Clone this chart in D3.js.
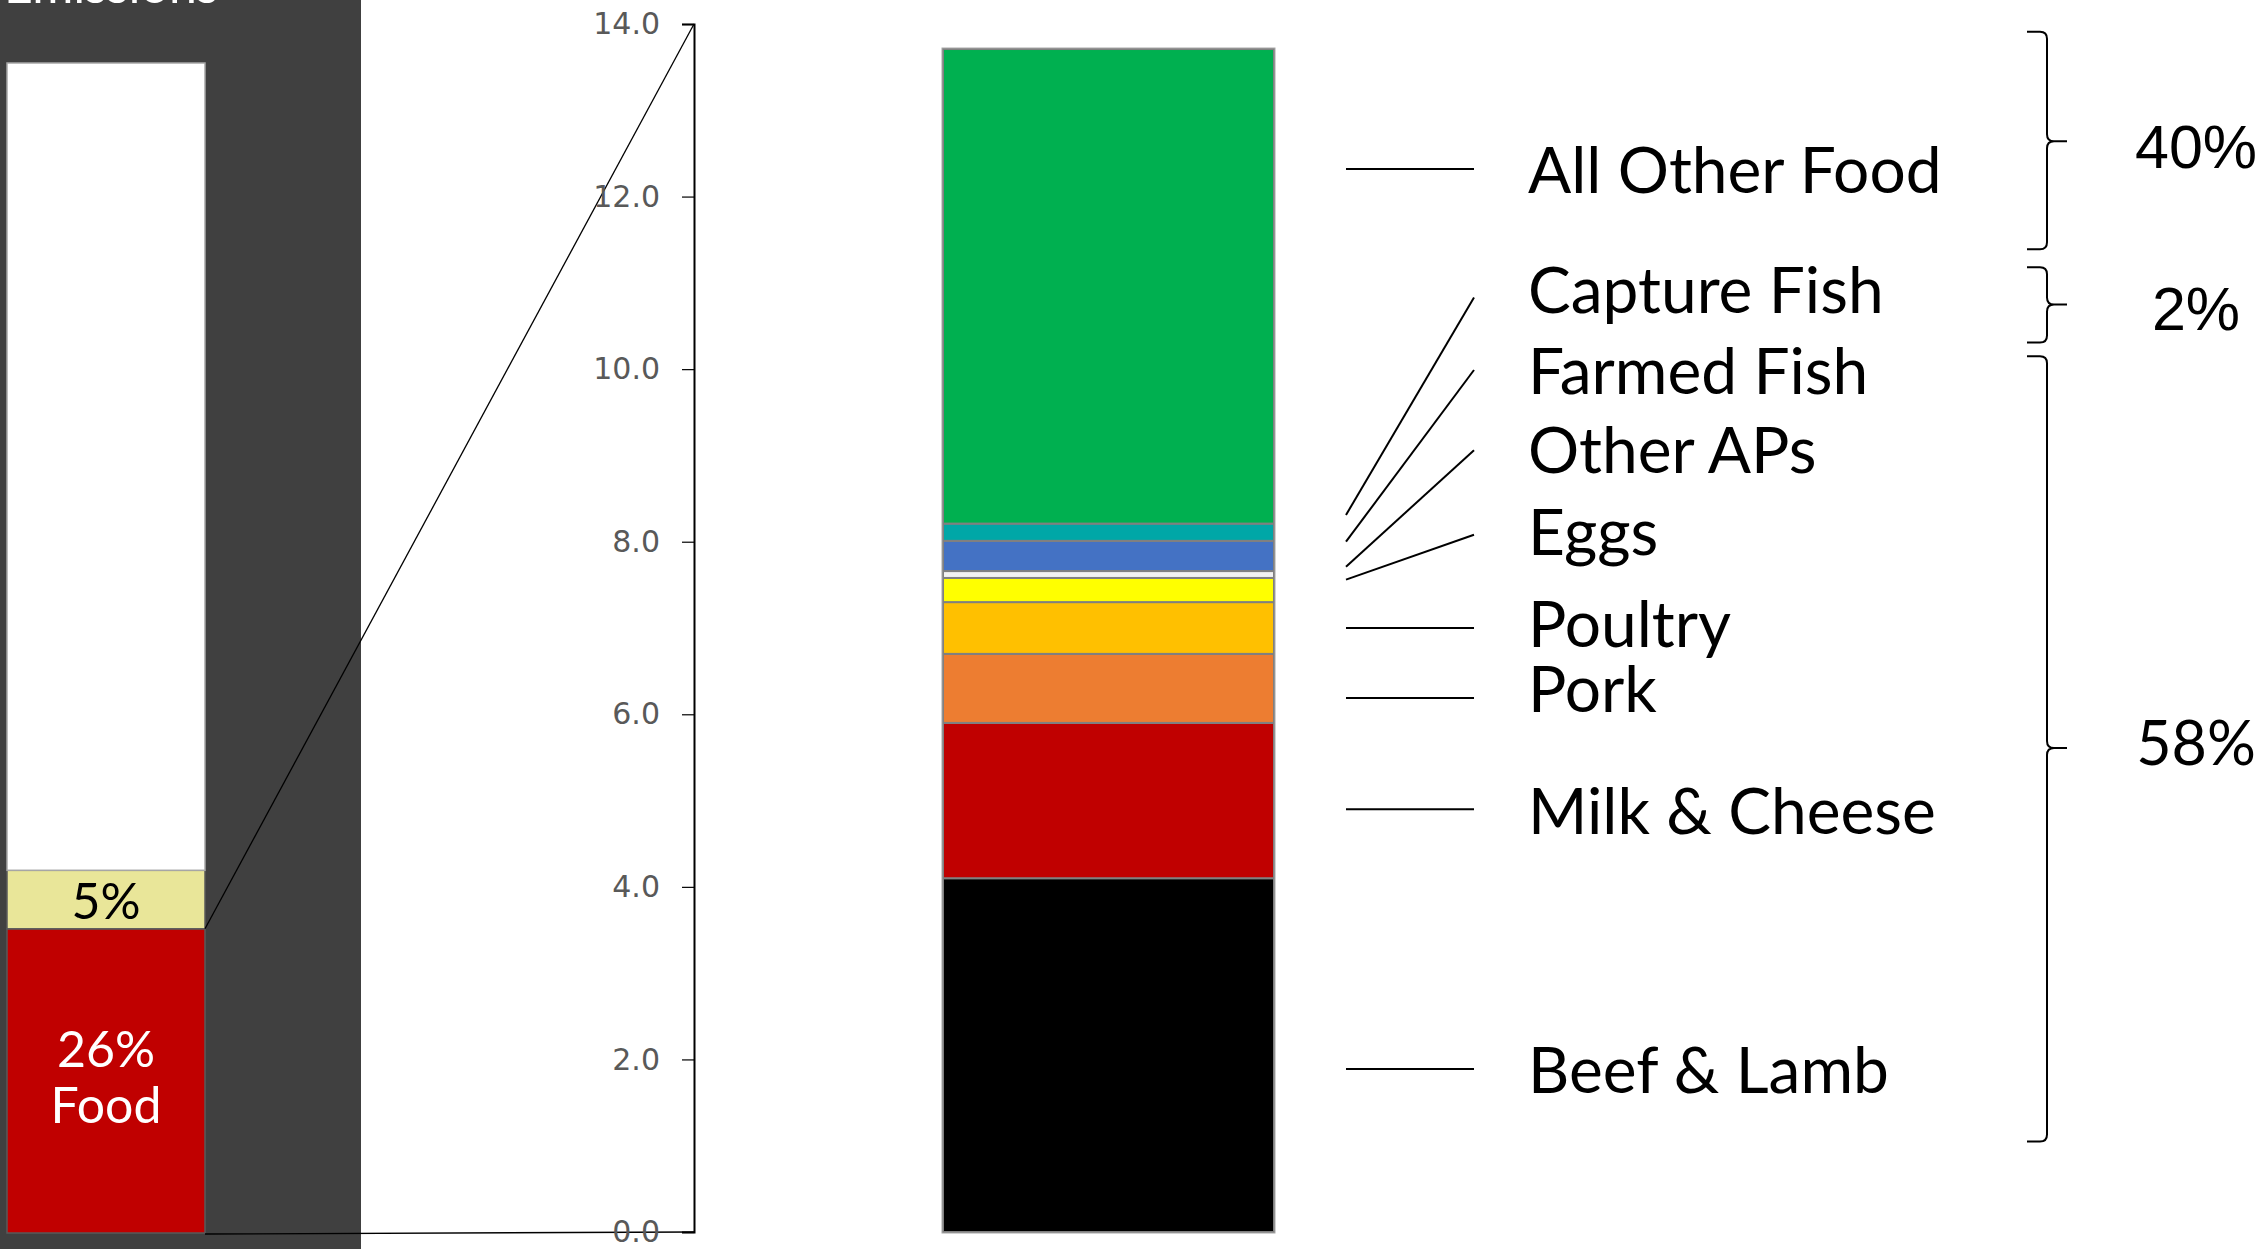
<!DOCTYPE html>
<html>
<head>
<meta charset="utf-8">
<script src="https://cdn.jsdelivr.net/npm/d3@7"></script>
<style>
  html, body { margin: 0; padding: 0; background: #fff; }
  svg { display: block; }
</style>
</head>
<body>
<svg id="chart" width="2267" height="1249"></svg>
<script>
// ---------- DATA ----------
// Left panel: share of total emissions (percent)
const leftCategories = ["Food", "Other", "Rest"];
const leftValues = [26, 5, 69];
const leftColors = ["#C00000", "#E9E699", "#FFFFFF"];

// Right panel: food emissions breakdown (bottom to top)
const categories = ["Beef & Lamb", "Milk & Cheese", "Pork", "Poultry", "Eggs",
                    "Other APs", "Farmed Fish", "Capture Fish", "All Other Food"];
const values = [4.1, 1.8, 0.8, 0.6, 0.28, 0.08, 0.35, 0.2, 5.5];
const colors = ["#000000", "#C00000", "#ED7D31", "#FFC000", "#FFFF00",
                "#F2F2F2", "#4472C4", "#00A7A7", "#00B050"];

// Label placement (in axis units)
const labelBaseline = [1.61, 4.61, 6.03, 6.78, 7.85, 8.80, 9.71, 10.65, 12.04];
const leaderEndY    = [1.89, 4.90, 6.19, 7.00, 8.08, 9.06, 9.99, 10.83, 12.32];
const leaderStartY  = [1.89, 4.90, 6.19, 7.00, 7.56, 7.71, 8.00, 8.31, 12.32];

// Axis ticks
const tickValues = [0, 2, 4, 6, 8, 10, 12, 14];

// Group brackets (in axis units)
const groupLabels = ["40%", "2%", "58%"];
const groupTop    = [13.91, 11.18, 10.15];
const groupBottom = [11.39, 10.31, 1.05];
const groupTip    = [12.64, 10.75, 5.61];
const groupLabelY = [12.33, 10.45, 5.41];
const groupFonts  = ["'Liberation Sans', Arial, sans-serif", "'Liberation Sans', Arial, sans-serif", "Lato, sans-serif"];

// ---------- LAYOUT ----------
const W = 2267, H = 1249;
const svg = d3.select("#chart");

const y = d3.scaleLinear().domain([0, 14]).range([1232, 24]);
const yL = d3.scaleLinear().domain([0, 100]).range([1233, 63]);

const leftPanel = { x0: 0, x1: 361 };
const leftBar = { x0: 7, x1: 205 };
const axisX = 694;
const rightBar = { x0: 943, x1: 1274 };
const leaderX0 = 1346, leaderX1 = 1474, labelX = 1528;
const brace = { xo: 2027, xs: 2047, xt: 2067, labelX: 2196 };

// Dark background panel
svg.append("rect")
  .attr("x", leftPanel.x0).attr("y", 0)
  .attr("width", leftPanel.x1 - leftPanel.x0).attr("height", H)
  .attr("fill", "#404040");

// Cut-off title
svg.append("text")
  .attr("x", 4).attr("y", 3)
  .attr("fill", "#FFFFFF")
  .attr("font-family", "Lato, sans-serif")
  .attr("font-size", 50)
  .text("Emissions");

// Left stacked bar
const leftStack = [];
let acc = 0;
leftValues.forEach((v, i) => { leftStack.push({ cat: leftCategories[i], y0: acc, y1: acc + v, color: leftColors[i] }); acc += v; });

svg.append("g").selectAll("rect").data(leftStack).join("rect")
  .attr("x", leftBar.x0)
  .attr("width", leftBar.x1 - leftBar.x0)
  .attr("y", d => yL(d.y1))
  .attr("height", d => yL(d.y0) - yL(d.y1))
  .attr("fill", d => d.color)
  .attr("stroke", d => d.cat === "Rest" ? "#A6A6A6" : "#5A5A5A")
  .attr("stroke-width", 1.5);

// Left labels
const cx = (leftBar.x0 + leftBar.x1) / 2;
svg.append("text")
  .attr("x", cx).attr("y", yL(26) - 10)
  .attr("text-anchor", "middle")
  .attr("font-family", "Lato, sans-serif").attr("font-size", 50)
  .attr("fill", "#000").text(leftValues[1] + "%");
svg.append("text")
  .attr("x", cx).attr("y", yL(14.2))
  .attr("text-anchor", "middle")
  .attr("font-family", "Lato, sans-serif").attr("font-size", 50)
  .attr("fill", "#fff").text(leftValues[0] + "%");
svg.append("text")
  .attr("x", cx).attr("y", yL(9.4))
  .attr("text-anchor", "middle")
  .attr("font-family", "Lato, sans-serif").attr("font-size", 50)
  .attr("fill", "#fff").text(leftCategories[0]);

// Zoom connector lines
svg.append("line")
  .attr("x1", leftBar.x1).attr("y1", yL(26))
  .attr("x2", axisX).attr("y2", y(14))
  .attr("stroke", "#000").attr("stroke-width", 1.3);
svg.append("line")
  .attr("x1", leftBar.x1).attr("y1", yL(0) + 1)
  .attr("x2", axisX).attr("y2", y(0))
  .attr("stroke", "#000").attr("stroke-width", 1.3);

// Axis
const axis = d3.axisLeft(y).tickValues(tickValues).tickFormat(d3.format(".1f")).tickSize(12).tickPadding(22);
const gAxis = svg.append("g").attr("transform", `translate(${axisX},0)`).call(axis);
gAxis.select(".domain").attr("stroke", "#000").attr("stroke-width", 2);
gAxis.selectAll(".tick line").attr("stroke", "#000").attr("stroke-width", 1.2);
gAxis.selectAll(".tick text")
  .attr("font-family", "'DejaVu Sans', Verdana, sans-serif")
  .attr("font-size", 30)
  .attr("fill", "#595959");

// Right stacked bar
const stack = [];
acc = 0;
values.forEach((v, i) => { stack.push({ cat: categories[i], y0: acc, y1: acc + v, color: colors[i] }); acc += v; });

svg.append("g").selectAll("rect").data(stack).join("rect")
  .attr("x", rightBar.x0)
  .attr("width", rightBar.x1 - rightBar.x0)
  .attr("y", d => y(d.y1))
  .attr("height", d => y(d.y0) - y(d.y1))
  .attr("fill", d => d.color)
  .attr("stroke", "#808080")
  .attr("stroke-width", 2);

// Outer light border
svg.append("rect")
  .attr("x", rightBar.x0 - 1).attr("y", y(acc) - 1)
  .attr("width", rightBar.x1 - rightBar.x0 + 2)
  .attr("height", y(0) - y(acc) + 2)
  .attr("fill", "none").attr("stroke", "#A6A6A6").attr("stroke-width", 1);

// Leader lines and labels
const labels = categories.map((c, i) => ({ cat: c, base: labelBaseline[i], ys: leaderStartY[i], ye: leaderEndY[i] }));
svg.append("g").selectAll("line").data(labels).join("line")
  .attr("x1", leaderX0).attr("y1", d => y(d.ys))
  .attr("x2", leaderX1).attr("y2", d => y(d.ye))
  .attr("stroke", "#000").attr("stroke-width", 2);

svg.append("g").selectAll("text").data(labels).join("text")
  .attr("x", labelX).attr("y", d => y(d.base))
  .attr("font-family", "Lato, sans-serif")
  .attr("font-size", 64)
  .attr("fill", "#000")
  .text(d => d.cat);

// Braces
const braces = groupLabels.map((g, i) => ({ label: g, top: y(groupTop[i]), bot: y(groupBottom[i]), tip: y(groupTip[i]), ly: y(groupLabelY[i]), font: groupFonts[i] }));
const r = 7;
svg.append("g").selectAll("path").data(braces).join("path")
  .attr("d", d => {
    const { xo, xs, xt } = brace;
    return `M${xo},${d.top} L${xs - r},${d.top} Q${xs},${d.top} ${xs},${d.top + r}` +
           ` L${xs},${d.tip - r} Q${xs},${d.tip} ${xs + r},${d.tip} L${xt},${d.tip}` +
           ` M${xs + r},${d.tip} Q${xs},${d.tip} ${xs},${d.tip + r}` +
           ` L${xs},${d.bot - r} Q${xs},${d.bot} ${xs - r},${d.bot} L${xo},${d.bot}`;
  })
  .attr("fill", "none").attr("stroke", "#000").attr("stroke-width", 2);

svg.append("g").selectAll("text").data(braces).join("text")
  .attr("x", brace.labelX).attr("y", d => d.ly)
  .attr("text-anchor", "middle")
  .attr("font-family", d => d.font)
  .attr("font-size", 61)
  .attr("fill", "#000")
  .text(d => d.label);
</script>
</body>
</html>
